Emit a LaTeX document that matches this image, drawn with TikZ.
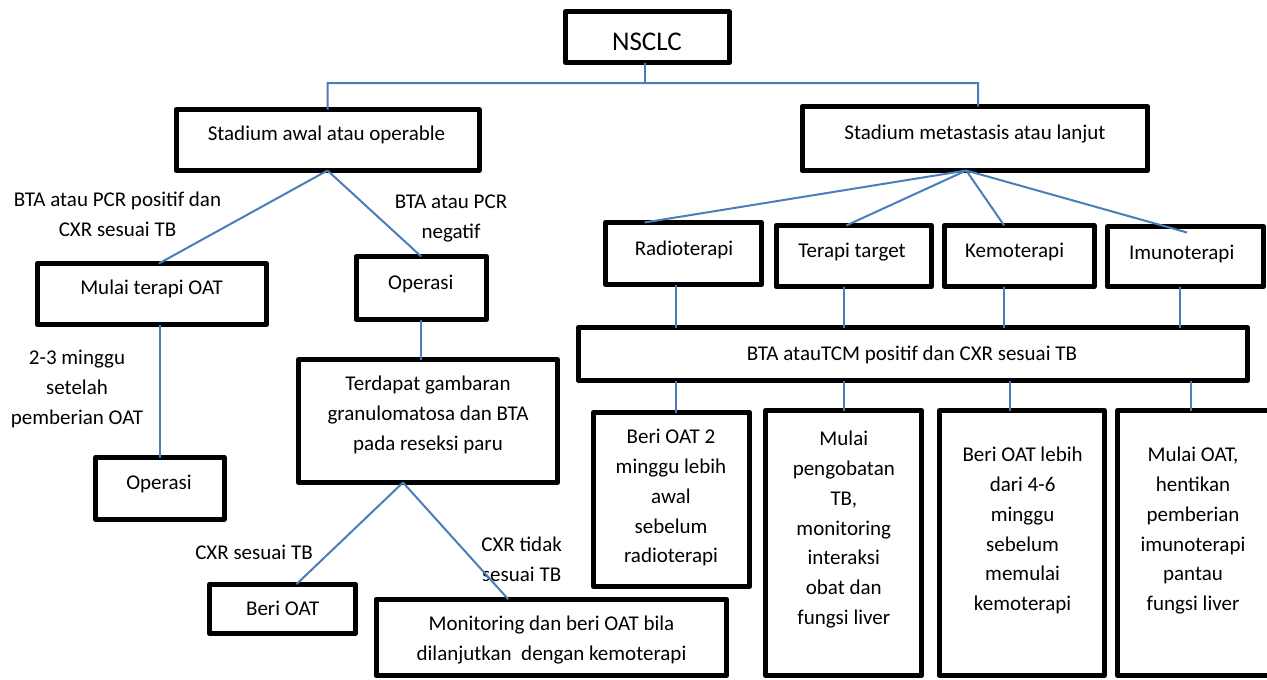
\documentclass[tikz,border=0pt]{standalone}
\usepackage{fontspec}
\setmainfont{Carlito}
\definecolor{connblue}{RGB}{74,126,187}
\begin{document}
\begin{tikzpicture}[x=1pt,y=-1pt,
  box/.style={draw=black, line width=5pt, line join=round, inner sep=0pt, outer sep=0pt, anchor=north west},
  txt/.style={font=\fontsize{21}{29.7}\selectfont, inner sep=0pt, anchor=base, align=center},
  mtxt/.style={font=\fontsize{21}{29.7}\selectfont, inner sep=0pt, anchor=north, align=center},
  link/.style={draw=connblue, line width=2pt}]
\clip (0,0) rectangle (1267,680);
\fill[white] (0,0) rectangle (1267,680);

% boxes
\node[box, minimum width=163.7pt, minimum height=50.7pt] (nsclc) at (565.5,11.8) {};
\node[box, minimum width=303pt, minimum height=61pt] (awal) at (176,109.5) {};
\node[box, minimum width=345.5pt, minimum height=64pt] (meta) at (802,106.5) {};
\node[box, minimum width=229.3pt, minimum height=61pt] (mulai) at (37.2,263.5) {};
\node[box, minimum width=130.5pt, minimum height=63pt] (op1) at (356,256.5) {};
\node[box, minimum width=128.5pt, minimum height=61.7pt] (op2) at (95.5,457.5) {};
\node[box, minimum width=259pt, minimum height=123pt] (terdapat) at (298.5,359.5) {};
\node[box, minimum width=146pt, minimum height=49.3pt] (beri) at (209.5,584.2) {};
\node[box, minimum width=350.5pt, minimum height=76.3pt] (monit) at (376,599.2) {};
\node[box, minimum width=156pt, minimum height=62pt] (radio) at (605.5,222.5) {};
\node[box, minimum width=155.5pt, minimum height=61pt] (target) at (776,225.5) {};
\node[box, minimum width=149.7pt, minimum height=61pt] (kemo) at (944.3,225.5) {};
\node[box, minimum width=156pt, minimum height=60pt] (imuno) at (1107.5,226.5) {};
\node[box, minimum width=669pt, minimum height=53pt] (bar) at (578.3,327.5) {};
\node[box, minimum width=156pt, minimum height=174pt] (b1) at (593.5,412.5) {};
\node[box, minimum width=156pt, minimum height=265pt] (b2) at (765.5,410.5) {};
\node[box, minimum width=165pt, minimum height=265pt] (b3) at (939.5,410.5) {};
\node[box, minimum width=163pt, minimum height=265pt] (b4) at (1117.5,410.5) {};

% texts
\node[txt, font=\fontsize{27}{33}\selectfont] (tnsclc) at (647,50.4) {NSCLC};
\node[txt] (tawal) at (326.5,140) {Stadium awal atau operable};
\node[txt] (tmeta) at (975,139) {Stadium metastasis atau lanjut};
\node[txt] (tmulai) at (151.6,294) {Mulai terapi OAT};
\node[txt] (top1) at (420.8,289) {Operasi};
\node[txt] (top2) at (159,489) {Operasi};
\node[txt] (tberi) at (282.7,615) {Beri OAT};
\node[txt] (tradio) at (684,255) {Radioterapi};
\node[txt] (ttarget) at (852,257) {Terapi target};
\node[txt] (tkemo) at (1014.6,257) {Kemoterapi};
\node[txt] (timuno) at (1181.7,259) {Imunoterapi};
\node[txt] (tbar) at (912,360) {BTA atauTCM positif dan CXR sesuai TB};
\node[txt] (lcxr) at (254,559) {CXR sesuai TB};

\node[mtxt] (lpos) at (117.5,186) {\strut BTA atau PCR positif dan\\CXR sesuai TB};
\node[mtxt] (lneg) at (451,188) {\strut BTA atau PCR\\negatif};
\node[mtxt] (lmgg) at (77,344) {\strut 2-3 minggu\\setelah\\pemberian OAT};
\node[mtxt] (tterdapat) at (428,370) {\strut Terdapat gambaran\\granulomatosa dan BTA\\pada reseksi paru};
\node[mtxt] (ltidak) at (521.6,531) {\strut CXR tidak\\sesuai TB};
\node[mtxt] (tmonit) at (551.5,610) {\strut Monitoring dan beri OAT bila\\dilanjutkan\ \ dengan kemoterapi};
\node[mtxt] (tb1) at (671,423) {\strut Beri OAT 2\\minggu lebih\\awal\\sebelum\\radioterapi};
\node[mtxt] (tb2) at (843.8,425) {\strut Mulai\\pengobatan\\TB,\\monitoring\\interaksi\\obat dan\\fungsi liver};
\node[mtxt] (tb3) at (1022.6,441) {\strut Beri OAT lebih\\dari 4-6\\minggu\\sebelum\\memulai\\kemoterapi};
\node[mtxt] (tb4) at (1193,441) {\strut Mulai OAT,\\hentikan\\pemberian\\imunoterapi\\pantau\\fungsi liver};

% connectors
\coordinate (hl) at (326,83);
\coordinate (hr) at (978,83);
\draw[link] ([xshift=-2pt]nsclc.south) -- ([xshift=-2pt]nsclc.south |- hl);
\draw[link] (awal.north) -- (awal.north |- hl) -- (hr) -- ([xshift=3.5pt]meta.north);

\draw[link] (awal.south) -- ([xshift=7pt]mulai.north);
\draw[link] (awal.south) -- (op1.north);
\draw[link] (op2.north) -- (op2.north |- mulai.south);
\draw[link] (op1.south) -- (op1.south |- terdapat.north);
\draw[link] ([xshift=-25pt]terdapat.south) -- ([xshift=14pt]beri.north);
\draw[link] ([xshift=-25pt]terdapat.south) -- ([xshift=-43pt]monit.north);

\draw[link] ([xshift=-8.5pt]meta.south) -- ([xshift=-39pt]radio.north);
\draw[link] ([xshift=-8.5pt]meta.south) -- ([xshift=-7.5pt]target.north);
\draw[link] ([xshift=-8.5pt]meta.south) -- ([xshift=-15pt]kemo.north);
\draw[link] ([xshift=-8.5pt]meta.south) -- ([xshift=1.5pt,yshift=-6pt]imuno.north);

\draw[link] ([xshift=-7.5pt]radio.south) -- ([xshift=-7.5pt]radio.south |- bar.north);
\draw[link] ([xshift=-9.5pt]target.south) -- ([xshift=-9.5pt]target.south |- bar.north);
\draw[link] ([xshift=-15pt]kemo.south) -- ([xshift=-15pt]kemo.south |- bar.north);
\draw[link] ([xshift=-5.5pt]imuno.south) -- ([xshift=-5.5pt]imuno.south |- bar.north);

\draw[link] ([xshift=4.5pt]b1.north |- bar.south) -- ([xshift=4.5pt]b1.north);
\draw[link] (b2.north |- bar.south) -- (b2.north);
\draw[link] ([xshift=-12.5pt]b3.north |- bar.south) -- ([xshift=-12.5pt]b3.north);
\draw[link] ([xshift=-8.5pt]b4.north |- bar.south) -- ([xshift=-8.5pt]b4.north);
\end{tikzpicture}
\end{document}
